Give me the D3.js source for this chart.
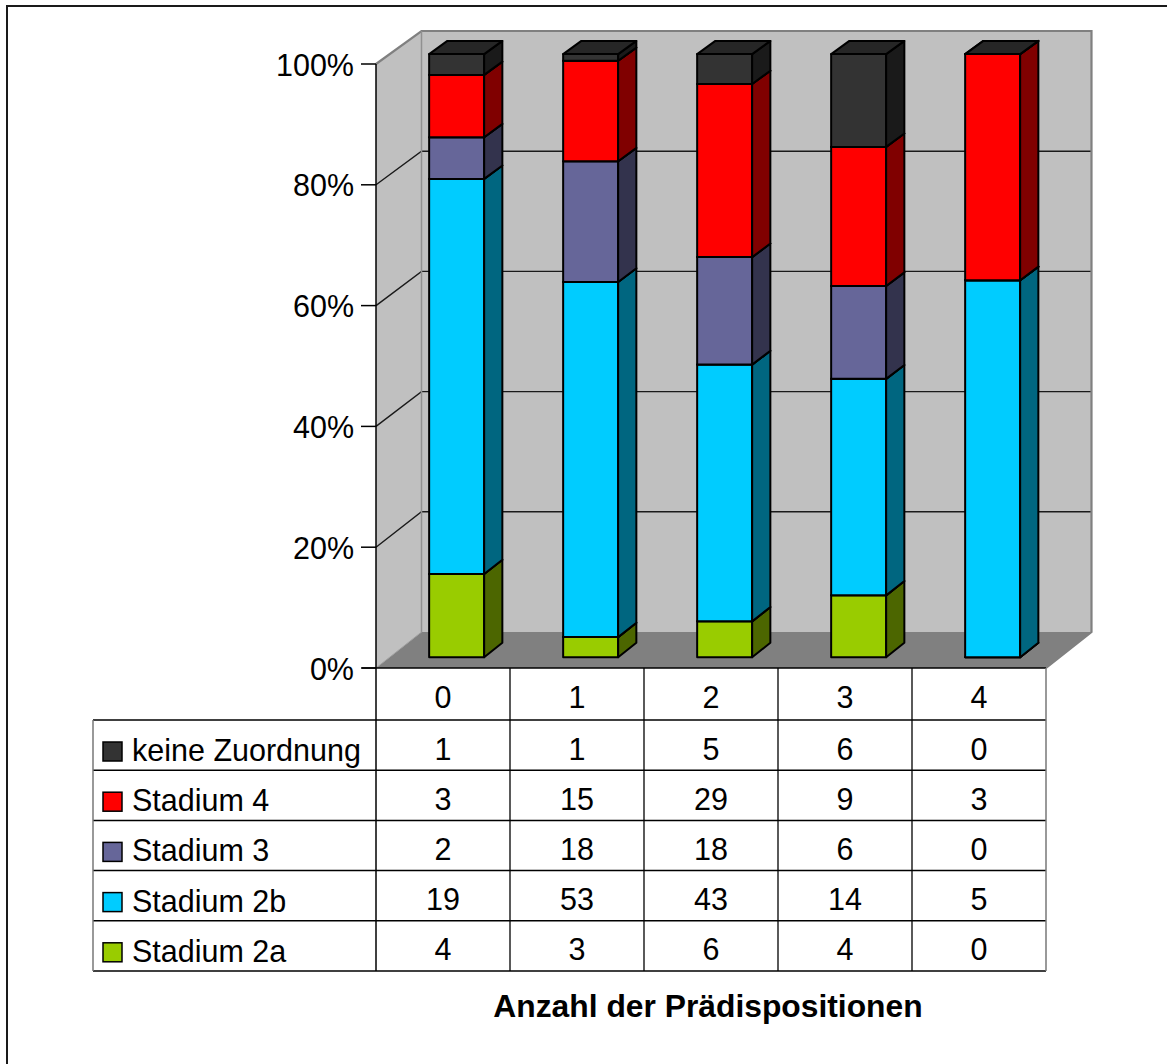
<!DOCTYPE html>
<html>
<head>
<meta charset="utf-8">
<script src="https://cdn.jsdelivr.net/npm/d3@7"></script>
<style>
  html, body { margin: 0; padding: 0; background: #ffffff; }
  svg { display: block; }
  text { font-family: "Liberation Sans", Arial, sans-serif; fill: #000; }
</style>
</head>
<body>
<script>
// Categories: number of predispositions
const categories = ["0", "1", "2", "3", "4"];

// Series (bottom to top of each stacked bar)
const seriesKeys = ["s2a", "s2b", "s3", "s4", "keine"];
const seriesNames = ["Stadium 2a", "Stadium 2b", "Stadium 3", "Stadium 4", "keine Zuordnung"];
const stadium2a = [4, 3, 6, 4, 0];
const stadium2b = [19, 53, 43, 14, 5];
const stadium3 = [2, 18, 18, 6, 0];
const stadium4 = [3, 15, 29, 9, 3];
const keineZuordnung = [1, 1, 5, 6, 0];

// Axis ticks (share of total)
const yTicks = [0, 0.2, 0.4, 0.6, 0.8, 1.0];

const axisTitle = "Anzahl der Prädispositionen";

// Face colours per series: front, side, top
const frontColors = ["#99cc00", "#00ccff", "#666699", "#ff0000", "#333333"];
const sideColors = ["#4c6600", "#006680", "#33334d", "#800000", "#1a1a1a"];
const topColors = ["#739900", "#0099bf", "#4d4d73", "#bf0000", "#262626"];

const W = 1167, H = 1064;
const FS = 30.5;
const svg = d3.select("body").append("svg").attr("width", W).attr("height", H);

// Build the table for the stack layout
const seriesValues = [stadium2a, stadium2b, stadium3, stadium4, keineZuordnung];
const table = categories.map((c, i) => {
  const row = { cat: c };
  seriesKeys.forEach((k, j) => row[k] = seriesValues[j][i]);
  return row;
});
const stacked = d3.stack().keys(seriesKeys).offset(d3.stackOffsetExpand)(table);

// Scales: front plane and back plane of the 3D box
const x = d3.scaleBand().domain(categories).range([376, 1046]).padding(0);
const yFront = d3.scaleLinear().domain([0, 1]).range([668, 64]);
const yBack = d3.scaleLinear().domain([0, 1]).range([632, 31]);
const depthDX = 45.5;

// Projection of (x in px on front plane, value, depth 0..1)
function P(px, v, t) {
  return [px + t * depthDX, yFront(v) * (1 - t) + yBack(v) * t];
}
const pts = arr => arr.map(p => p.join(",")).join(" ");

// Outer frame
svg.append("rect").attr("x", 7).attr("y", 6).attr("width", W + 20).attr("height", H + 20)
  .attr("fill", "none").attr("stroke", "#1a1a1a").attr("stroke-width", 2);

const x0 = x.range()[0], x1 = x.range()[1];

// Side wall
svg.append("polygon")
  .attr("points", pts([P(x0, 0, 0), P(x0, 1, 0), P(x0, 1, 1), P(x0, 0, 1)]))
  .attr("fill", "#c0c0c0").attr("stroke", "none");
// Back wall
svg.append("polygon")
  .attr("points", pts([P(x0, 0, 1), P(x0, 1, 1), P(x1, 1, 1), P(x1, 0, 1)]))
  .attr("fill", "#c0c0c0").attr("stroke", "none");
// Floor
svg.append("polygon")
  .attr("points", pts([P(x0, 0, 0), P(x1, 0, 0), P(x1, 0, 1), P(x0, 0, 1)]))
  .attr("fill", "#808080").attr("stroke", "none");

// Gridlines on side and back walls
const grid = svg.append("g");
yTicks.filter(v => v > 0 && v < 1).forEach(v => {
  grid.append("polyline")
    .attr("points", pts([P(x0, v, 0), P(x0, v, 1), P(x1, v, 1)]))
    .attr("fill", "none").attr("stroke", "#1a1a1a").attr("stroke-width", 1.4);
});

// Wall edges
svg.append("polyline")
  .attr("points", pts([P(x0, 1, 0), P(x0, 1, 1), P(x1, 1, 1), P(x1, 0, 1), P(x1, 0, 0)]))
  .attr("fill", "none").attr("stroke", "#808080").attr("stroke-width", 2.2);
svg.append("line")
  .attr("x1", P(x0, 0, 1)[0]).attr("y1", P(x0, 0, 1)[1])
  .attr("x2", P(x0, 1, 1)[0]).attr("y2", P(x0, 1, 1)[1])
  .attr("stroke", "#909090").attr("stroke-width", 1.5);
svg.append("line")
  .attr("x1", P(x0, 0, 0)[0]).attr("y1", P(x0, 0, 0)[1])
  .attr("x2", P(x0, 0, 1)[0]).attr("y2", P(x0, 0, 1)[1])
  .attr("stroke", "#a0a0a0").attr("stroke-width", 1);

// Bars
const barW = 55, tFront = 0.3, tBack = 0.7;
const bars = svg.append("g").attr("stroke", "#000").attr("stroke-width", 2).attr("stroke-linejoin", "round");
categories.forEach((c, i) => {
  const bx0 = x(c) + (x.bandwidth() - barW) / 2;
  const bx1 = bx0 + barW;
  stacked.forEach((s, j) => {
    const lo = s[i][0], hi = s[i][1];
    const g = bars.append("g");
    // front face
    g.append("polygon")
      .attr("points", pts([P(bx0, lo, tFront), P(bx1, lo, tFront), P(bx1, hi, tFront), P(bx0, hi, tFront)]))
      .attr("fill", frontColors[j]);
    // right side face
    g.append("polygon")
      .attr("points", pts([P(bx1, lo, tFront), P(bx1, lo, tBack), P(bx1, hi, tBack), P(bx1, hi, tFront)]))
      .attr("fill", sideColors[j]);
    // top face
    g.append("polygon")
      .attr("points", pts([P(bx0, hi, tFront), P(bx1, hi, tFront), P(bx1, hi, tBack), P(bx0, hi, tBack)]))
      .attr("fill", topColors[j]);
  });
});

// Y axis line, ticks and labels
svg.append("line").attr("x1", 376).attr("x2", 376).attr("y1", yFront(1)).attr("y2", 971)
  .attr("stroke", "#000").attr("stroke-width", 1.5);
const ay = svg.append("g");
yTicks.forEach(v => {
  ay.append("line").attr("x1", 361).attr("x2", 376).attr("y1", yFront(v)).attr("y2", yFront(v))
    .attr("stroke", "#000").attr("stroke-width", 1.5);
  ay.append("text").attr("x", 354).attr("y", yFront(v) + 11.5)
    .attr("text-anchor", "end").attr("font-size", FS)
    .text(d3.format(".0%")(v));
});

// Data table
const headTop = 668, headH = 52, rowH = 50.2, tableLeft = 93;
const rowOrder = [4, 3, 2, 1, 0];
const tableBottom = headTop + headH + rowOrder.length * rowH;
const tg = svg.append("g");

// horizontal lines
tg.append("line").attr("x1", 362).attr("x2", x1).attr("y1", headTop).attr("y2", headTop)
  .attr("stroke", "#000").attr("stroke-width", 1.5);
for (let r = 0; r <= rowOrder.length; r++) {
  const yy = headTop + headH + r * rowH;
  tg.append("line").attr("x1", tableLeft).attr("x2", x1).attr("y1", yy).attr("y2", yy)
    .attr("stroke", "#000").attr("stroke-width", 1.5);
}
// vertical lines
categories.forEach((c, i) => {
  if (i > 0) tg.append("line").attr("x1", x(c)).attr("x2", x(c)).attr("y1", headTop).attr("y2", tableBottom)
    .attr("stroke", "#000").attr("stroke-width", 1.3);
});
tg.append("line").attr("x1", x1).attr("x2", x1).attr("y1", headTop).attr("y2", tableBottom)
  .attr("stroke", "#777").attr("stroke-width", 1.5);
tg.append("line").attr("x1", tableLeft).attr("x2", tableLeft).attr("y1", headTop + headH).attr("y2", tableBottom)
  .attr("stroke", "#777").attr("stroke-width", 1.5);

// header row: categories
categories.forEach(c => {
  tg.append("text").attr("x", x(c) + x.bandwidth() / 2).attr("y", headTop + 39.5)
    .attr("text-anchor", "middle").attr("font-size", FS).text(c);
});
// series rows
rowOrder.forEach((j, r) => {
  const top = headTop + headH + r * rowH;
  tg.append("rect").attr("x", 103).attr("y", top + 22).attr("width", 19).attr("height", 19)
    .attr("fill", frontColors[j]).attr("stroke", "#000").attr("stroke-width", 1.5);
  tg.append("text").attr("x", 132).attr("y", top + 41).attr("font-size", FS).text(seriesNames[j]);
  categories.forEach((c, i) => {
    tg.append("text").attr("x", x(c) + x.bandwidth() / 2).attr("y", top + 39.5)
      .attr("text-anchor", "middle").attr("font-size", FS).text(seriesValues[j][i]);
  });
});

// Axis title
svg.append("text").attr("x", 708).attr("y", 1017).attr("text-anchor", "middle")
  .attr("font-size", 31.8).attr("font-weight", "bold").text(axisTitle);
</script>
</body>
</html>
